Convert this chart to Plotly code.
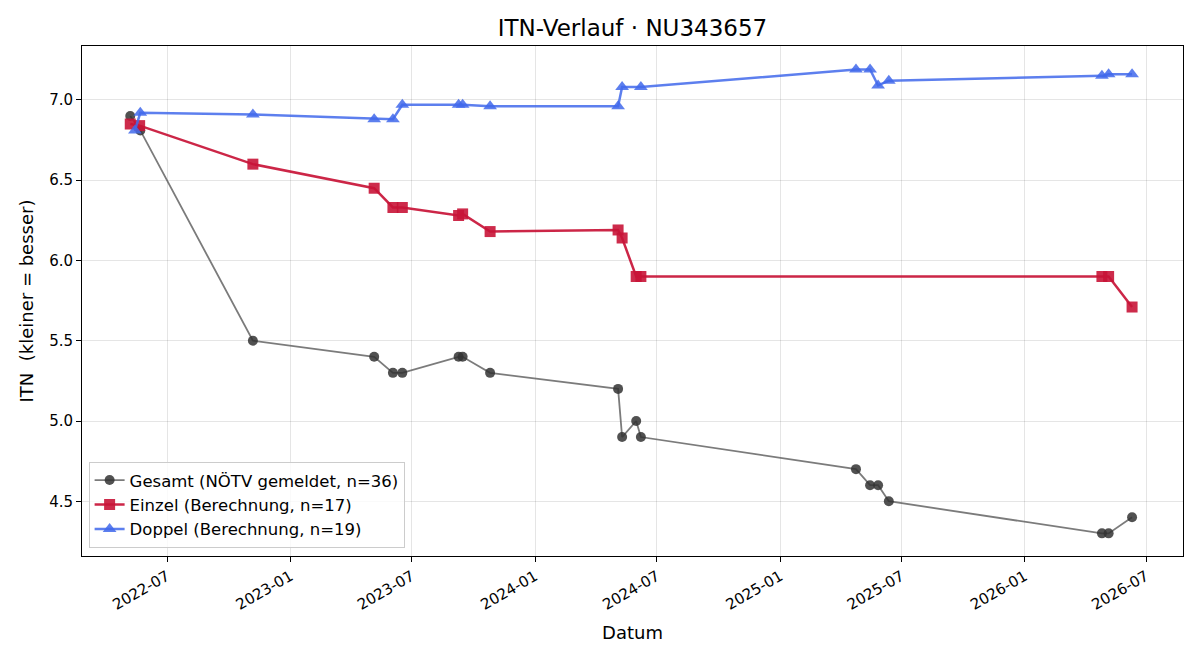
import plotly.graph_objects as go

# ---- data ----
gesamt_dates = ["2022-05-07", "2022-05-22", "2022-11-06", "2023-05-06", "2023-06-03",
                "2023-06-17", "2023-09-09", "2023-09-15", "2023-10-26", "2024-05-04",
                "2024-05-10", "2024-05-31", "2024-06-07", "2025-04-24", "2025-05-15",
                "2025-05-27", "2025-06-12", "2026-04-26", "2026-05-06", "2026-06-10"]
gesamt_vals = [6.90, 6.81, 5.5, 5.4, 5.3, 5.3, 5.4, 5.4, 5.3, 5.2,
               4.9, 5.0, 4.9, 4.7, 4.6, 4.6, 4.5, 4.3, 4.3, 4.4]

einzel_dates = ["2022-05-07", "2022-05-21", "2022-11-06", "2023-05-06", "2023-06-03",
                "2023-06-17", "2023-09-09", "2023-09-15", "2023-10-26", "2024-05-04",
                "2024-05-10", "2024-05-31", "2024-06-07", "2026-04-26", "2026-05-06",
                "2026-06-10"]
einzel_vals = [6.85, 6.84, 6.60, 6.45, 6.33, 6.33, 6.28, 6.29, 6.18, 6.19,
               6.14, 5.90, 5.90, 5.90, 5.90, 5.71]

doppel_dates = ["2022-05-14", "2022-05-22", "2022-11-06", "2023-05-06", "2023-06-03",
                "2023-06-17", "2023-09-09", "2023-09-15", "2023-10-26", "2024-05-04",
                "2024-05-10", "2024-06-07", "2025-04-24", "2025-05-15", "2025-05-27",
                "2025-06-12", "2026-04-26", "2026-05-06", "2026-06-10"]
doppel_vals = [6.81, 6.92, 6.91, 6.88, 6.88, 6.97, 6.97, 6.97, 6.96, 6.96,
               7.08, 7.08, 7.19, 7.19, 7.09, 7.12, 7.15, 7.16, 7.16]

y_ticks = [4.5, 5.0, 5.5, 6.0, 6.5, 7.0]

FONT = "DejaVu Sans, Liberation Sans, sans-serif"

fig = go.Figure()
fig.add_trace(go.Scatter(
    x=gesamt_dates, y=gesamt_vals, mode="lines+markers",
    name="Gesamt (NÖTV gemeldet, n=36)",
    line=dict(color="rgba(90,90,90,0.8)", width=1.8),
    marker=dict(symbol="circle", size=10, color="rgba(50,50,50,0.85)"),
))
fig.add_trace(go.Scatter(
    x=einzel_dates, y=einzel_vals, mode="lines+markers",
    name="Einzel (Berechnung, n=17)",
    line=dict(color="rgba(200,20,55,0.92)", width=2.5),
    marker=dict(symbol="square", size=11, color="rgba(200,20,55,0.9)"),
))
fig.add_trace(go.Scatter(
    x=doppel_dates, y=doppel_vals, mode="lines+markers",
    name="Doppel (Berechnung, n=19)",
    line=dict(color="rgba(65,105,235,0.85)", width=2.5),
    marker=dict(symbol="triangle-up", size=12, color="rgba(65,105,235,0.85)"),
))

fig.update_layout(
    width=1200, height=660,
    margin=dict(l=82, r=17, t=46, b=104),
    paper_bgcolor="white", plot_bgcolor="white",
    font=dict(family=FONT, size=15, color="black"),
    title=dict(text="ITN-Verlauf · NU343657", x=0.5, xref="paper", xanchor="center",
               y=1 - 28 / 660, yanchor="middle",
               font=dict(family=FONT, size=23, color="black")),
    legend=dict(x=0.006, y=0.016, xanchor="left", yanchor="bottom",
                bgcolor="rgba(255,255,255,0.8)", bordercolor="#cccccc", borderwidth=1,
                font=dict(family=FONT, size=16.5), tracegroupgap=0),
    showlegend=True,
)
fig.update_xaxes(
    range=["2022-02-24", "2026-08-25"],
    tick0="2022-07-01", dtick="M6", tickformat="%Y-%m", tickangle=-30,
    ticks="outside", ticklen=5, tickcolor="black",
    showline=True, linecolor="black", linewidth=1, mirror=True,
    showgrid=True, gridcolor="rgba(0,0,0,0.1)", gridwidth=1,
    zeroline=False,
    title=dict(text="Datum", font=dict(family=FONT, size=18), standoff=13),
    tickfont=dict(family=FONT, size=15),
)
fig.update_yaxes(
    range=[4.159, 7.336],
    tickvals=y_ticks, tickformat=".1f",
    ticks="outside", ticklen=5, tickcolor="black",
    showline=True, linecolor="black", linewidth=1, mirror=True,
    showgrid=True, gridcolor="rgba(0,0,0,0.1)", gridwidth=1,
    zeroline=False,
    title=dict(text="ITN  (kleiner = besser)", font=dict(family=FONT, size=18), standoff=10),
    tickfont=dict(family=FONT, size=15),
)

fig.write_html("out.html")
